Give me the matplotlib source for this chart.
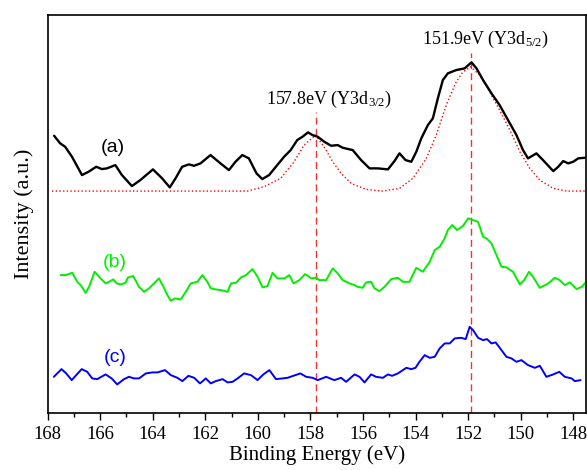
"""Y 3d XPS spectra of three samples with a two-peak fit on spectrum (a)."""

import matplotlib

matplotlib.use("Agg")

import matplotlib.pyplot as plt  # noqa: E402
from matplotlib.ticker import MultipleLocator  # noqa: E402

plt.rcParams["font.family"] = "Liberation Serif"
plt.rcParams["mathtext.fontset"] = "custom"
plt.rcParams["mathtext.rm"] = "Liberation Serif"
plt.rcParams["mathtext.it"] = "Liberation Serif:italic"

# spectrum (a), black
be_a = [167.75, 167.52, 167.33, 167.07, 166.69, 166.44, 166.15, 165.93, 165.74, 165.42,
        165.17, 164.79, 164.47, 163.99, 163.64, 163.35, 163.13, 162.88, 162.62, 162.43,
        162.18, 161.80, 161.42, 161.10, 160.85, 160.59, 160.34, 160.05, 159.83, 159.57,
        159.26, 159.00, 158.75, 158.50, 158.30, 158.09, 157.92, 157.72, 157.47, 157.21,
        156.96, 156.77, 156.39, 156.07, 155.75, 155.43, 155.05, 154.80, 154.61, 154.38,
        154.16, 153.97, 153.78, 153.53, 153.34, 153.15, 152.96, 152.77, 152.45, 152.13,
        151.87, 151.68, 151.43, 151.11, 150.80, 150.48, 150.16, 149.91, 149.72, 149.40,
        149.15, 148.76, 148.57, 148.38, 148.19, 148.00, 147.81, 147.56]
int_a = [277.3, 269.7, 266.3, 256.3, 238.0, 241.3, 246.3, 244.0, 244.7, 248.0,
         238.0, 227.0, 233.0, 243.7, 234.7, 225.7, 234.7, 246.3, 248.7, 247.3,
         249.7, 258.0, 249.7, 243.0, 251.3, 258.0, 254.7, 239.7, 234.0, 238.0,
         248.0, 256.3, 263.0, 273.0, 276.3, 280.7, 278.0, 276.3, 271.3, 267.3,
         268.0, 265.3, 263.0, 253.0, 244.7, 244.7, 243.7, 252.0, 259.7, 253.0,
         251.3, 261.3, 274.7, 288.0, 294.7, 314.7, 333.0, 339.7, 343.0, 344.7,
         350.7, 344.7, 333.0, 319.7, 308.0, 293.0, 278.0, 263.0, 254.7, 259.7,
         253.0, 242.0, 246.3, 252.0, 249.7, 251.3, 254.7, 255.3]

# fitted envelope for (a), red dotted
be_fit = [167.83, 160.40, 159.77, 159.13, 158.62, 158.24, 157.80, 157.66, 157.40, 157.15,
          156.83, 156.45, 155.88, 155.26, 154.61, 154.10, 153.59, 153.21, 152.83, 152.45,
          152.19, 151.90, 151.56, 151.18, 150.80, 150.41, 150.03, 149.65, 149.27, 148.76,
          148.25, 147.52]
int_fit = [222.0, 222.0, 226.3, 234.7, 251.3, 268.0, 278.0, 273.0, 263.0, 251.3,
           239.7, 229.7, 223.7, 222.0, 224.7, 234.7, 254.7, 278.0, 308.0, 331.3,
           341.3, 346.3, 338.0, 321.3, 303.0, 283.0, 261.3, 244.7, 233.0, 224.7,
           222.0, 222.0]

# spectrum (b), green
be_b = [167.50, 167.31, 167.06, 166.87, 166.74, 166.55, 166.42, 166.21, 165.98, 165.79,
        165.66, 165.50, 165.37, 165.22, 165.03, 164.94, 164.74, 164.52, 164.33, 164.14,
        163.95, 163.76, 163.59, 163.44, 163.31, 163.16, 162.93, 162.74, 162.55, 162.30,
        162.11, 161.92, 161.79, 161.60, 161.40, 161.15, 161.02, 160.83, 160.64, 160.45,
        160.20, 160.01, 159.82, 159.63, 159.44, 159.25, 158.99, 158.80, 158.64, 158.42,
        158.20, 157.96, 157.78, 157.66, 157.40, 157.15, 156.96, 156.77, 156.51, 156.32,
        156.20, 156.01, 155.88, 155.69, 155.56, 155.37, 155.18, 154.92, 154.67, 154.48,
        154.23, 153.97, 153.72, 153.46, 153.27, 153.08, 152.89, 152.77, 152.60, 152.42,
        152.19, 152.00, 151.81, 151.62, 151.43, 151.30, 151.11, 150.92, 150.73, 150.54,
        150.29, 150.03, 149.87, 149.68, 149.53, 149.27, 148.95, 148.70, 148.51, 148.32,
        148.13, 147.87, 147.68, 147.52]
int_b = [138.0, 138.0, 140.3, 131.3, 128.0, 120.3, 126.3, 141.3, 134.7, 129.7,
         131.3, 133.7, 129.7, 128.7, 130.3, 135.7, 137.0, 126.3, 121.3, 124.7,
         129.7, 134.7, 126.3, 118.0, 112.3, 114.7, 113.7, 121.3, 129.7, 131.3,
         138.0, 131.3, 124.7, 123.7, 123.0, 121.3, 129.7, 130.3, 135.7, 138.0,
         144.0, 136.3, 125.7, 127.0, 140.3, 134.7, 134.7, 138.0, 129.7, 133.0,
         139.0, 134.7, 135.3, 133.0, 133.0, 144.7, 139.7, 133.0, 129.7, 128.0,
         126.3, 125.3, 130.7, 131.3, 124.7, 122.0, 126.3, 134.0, 135.3, 131.3,
         131.3, 145.3, 141.3, 151.3, 163.0, 166.3, 174.7, 183.0, 188.0, 183.0,
         187.3, 194.7, 193.0, 191.3, 176.3, 174.7, 169.7, 158.0, 146.3, 145.7,
         141.3, 128.7, 133.0, 141.3, 136.3, 125.3, 129.7, 135.3, 133.0, 128.0,
         130.7, 124.0, 126.3, 130.7]

# spectrum (c), blue
be_c = [167.76, 167.47, 167.29, 167.08, 166.91, 166.70, 166.49, 166.30, 166.11, 165.79,
        165.56, 165.35, 165.09, 164.90, 164.71, 164.52, 164.26, 164.01, 163.82, 163.53,
        163.31, 163.06, 162.87, 162.64, 162.42, 162.20, 161.98, 161.79, 161.60, 161.34,
        161.15, 160.96, 160.77, 160.52, 160.26, 160.01, 159.79, 159.56, 159.31, 159.06,
        158.87, 158.65, 158.38, 158.16, 157.91, 157.72, 157.40, 157.09, 156.83, 156.64,
        156.32, 156.13, 155.94, 155.69, 155.50, 155.24, 155.05, 154.89, 154.67, 154.35,
        154.16, 154.00, 153.85, 153.65, 153.46, 153.27, 153.08, 152.89, 152.70, 152.51,
        152.26, 152.09, 151.94, 151.81, 151.62, 151.43, 151.28, 151.11, 150.95, 150.73,
        150.54, 150.35, 150.16, 149.97, 149.72, 149.46, 149.27, 149.02, 148.76, 148.53,
        148.32, 148.06, 147.94, 147.72]
int_c = [36.3, 44.0, 39.7, 33.0, 38.0, 44.0, 41.3, 34.7, 34.0, 38.7,
         34.7, 28.7, 34.0, 36.3, 34.7, 34.7, 39.7, 40.7, 40.7, 43.0,
         38.0, 35.3, 32.0, 37.3, 35.3, 29.7, 34.7, 29.7, 32.0, 34.0,
         30.7, 31.3, 34.7, 39.7, 38.0, 33.0, 38.7, 43.0, 34.0, 34.7,
         35.3, 37.3, 39.7, 36.3, 35.3, 33.0, 36.3, 33.0, 35.3, 31.3,
         38.7, 36.3, 30.7, 38.7, 36.3, 35.3, 38.7, 37.3, 39.7, 45.3,
         44.0, 45.3, 51.3, 58.0, 55.3, 56.3, 64.7, 69.7, 69.7, 74.7,
         75.3, 74.0, 86.3, 83.0, 75.3, 73.0, 74.0, 69.7, 70.7, 63.0,
         56.3, 54.7, 51.3, 53.0, 48.0, 45.3, 47.3, 36.3, 38.7, 41.3,
         36.3, 34.7, 32.0, 33.0]

peak_pos = [157.8, 151.9]
peak_top = [301.0, 360.0]
peak_text = ["157.8eV (Y3d$_{3/2}$)", "151.9eV (Y3d$_{5/2}$)"]
peak_text_xy = [(157.31, 314.0), (151.33, 374.0)]

curve_labels = ["(a)", "(b)", "(c)"]
curve_label_xy = [(165.5, 266.0), (165.45, 151.0), (165.42, 56.0)]
colors = ["black", "#00ee00", "#0000ff"]

fig = plt.figure(figsize=(5.87, 4.70), dpi=100)
ax = fig.add_axes([0.081, 0.121, 0.917, 0.847])

for x, top in zip(peak_pos, peak_top):
    ax.plot([x, x], [0, top], color="#ee3333", lw=1.0, dashes=(5, 3))

ax.plot(be_fit, int_fit, color="red", lw=1.0, ls=":")
line_kw = dict(solid_joinstyle="round", solid_capstyle="round")
ax.plot(be_a, int_a, color=colors[0], lw=1.7, **line_kw)
ax.plot(be_b, int_b, color=colors[1], lw=1.4, **line_kw)
ax.plot(be_c, int_c, color=colors[2], lw=1.4, **line_kw)

for txt, (x, y) in zip(peak_text, peak_text_xy):
    ax.text(x, y, txt, ha="center", va="center", fontsize=13)
for txt, (x, y), c in zip(curve_labels, curve_label_xy, colors):
    ax.text(x, y, txt, ha="center", va="center", fontsize=14,
            color=c, family="Liberation Sans")

ax.set_xlim(168, 147.52)
ax.set_ylim(0, 398)
ax.xaxis.set_major_locator(MultipleLocator(2))
ax.xaxis.set_minor_locator(MultipleLocator(1))
ax.tick_params(axis="x", which="major", direction="out", length=5, width=1.0,
               labelsize=13.5, pad=4)
ax.tick_params(axis="x", which="minor", direction="out", length=3, width=1.0)
ax.set_yticks([])
for s in ax.spines.values():
    s.set_linewidth(1.2)
ax.set_xlabel("Binding Energy (eV)", fontsize=15, labelpad=2)
ax.set_ylabel("Intensity (a.u.)", fontsize=16, labelpad=10)

fig.savefig("out.png", dpi=100)
plt.close(fig)
